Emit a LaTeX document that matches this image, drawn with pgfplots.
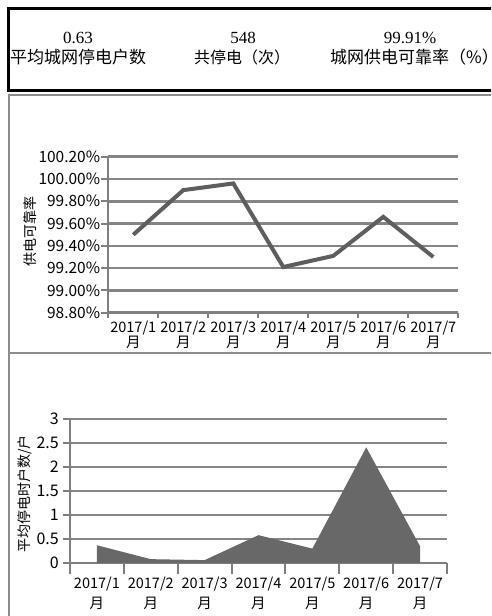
\documentclass[border=0pt]{standalone}
\usepackage{pgfplots}
\pgfplotsset{compat=1.18}
\usepackage{fontspec}
\setmainfont{Noto Sans CJK SC}
\newfontfamily\cjk{Noto Sans CJK SC}
\newfontfamily\serifnum{Liberation Serif}
\definecolor{gridgray}{HTML}{858585}
\definecolor{axisgray}{HTML}{7F7F7F}
\definecolor{linegray}{HTML}{5E5E5E}
\definecolor{fillgray}{HTML}{686868}
\definecolor{panelgray}{HTML}{8C8C8C}
\newcommand\yue{{\cjk 月}}
\pgfplotsset{
  mychart/.style={
    scale only axis, anchor=south west,
    xmin=0.5, xmax=7.5,
    axis lines*=left,
    axis line style={draw=axisgray, line width=2pt},
    tick align=outside,
    xtick={1,...,7},
    minor xtick={0.5,1.5,...,7.5},
    major x tick style={draw=none},
    tick style={draw=axisgray, line width=2pt},
    major tick length=7pt,
    ymajorgrids,
    major grid style={draw=gridgray, line width=2.5pt},
    xticklabels={{2017/1\\\yue},{2017/2\\\yue},{2017/3\\\yue},{2017/4\\\yue},{2017/5\\\yue},{2017/6\\\yue},{2017/7\\\yue}},
    yticklabel style={font=\fontsize{15.5}{18}\selectfont, inner sep=1pt},
    clip=false,
  }
}
\begin{document}
\begin{tikzpicture}[x=1pt,y=1pt]
\useasboundingbox (0,0) rectangle (491,616);
\clip (0,0) rectangle (491,616);
\fill[white] (0,0) rectangle (491,616);
% panels
\draw[panelgray, line width=2pt] (9,0) -- (9,521) -- (520,521);
\draw[panelgray, line width=2pt] (9,263) -- (520,263);
% top box
\draw[black, line width=3pt] (8.5,525) rectangle (520,607);
\node[font=\serifnum\fontsize{17}{20}\selectfont] at (78,578) {0.63};
\node[font=\cjk\fontsize{17}{20}\selectfont] at (78,559) {平均城网停电户数};
\node[font=\serifnum\fontsize{17}{20}\selectfont] at (243,578) {548};
\node[font=\cjk\fontsize{16}{20}\selectfont] at (242,559) {共停电（次）};
\node[font=\serifnum\fontsize{17}{20}\selectfont] at (410,578) {99.91\%};
\node[font=\cjk\fontsize{17}{20}\selectfont, anchor=west, inner sep=0pt] at (330,559) {城网供电可靠率（\%）};

% chart 1
\begin{axis}[mychart,
  at={(108.3pt,303.3pt)}, width=350pt, height=156pt,
  ymin=98.8, ymax=100.2,
  ytick={98.8,99.0,99.2,99.4,99.6,99.8,100.0,100.2},
  yticklabels={98.80\%,99.00\%,99.20\%,99.40\%,99.60\%,99.80\%,100.00\%,100.20\%},
  minor tick length=5pt,
  xticklabel style={font=\fontsize{14.5}{15.5}\selectfont, align=center, inner sep=1pt},
]
\addplot[linegray, line width=4pt, line join=miter] coordinates {
 (1,99.50) (2,99.90) (3,99.96) (4,99.21) (5,99.31) (6,99.66) (7,99.30)};
\end{axis}
\node[font=\cjk\fontsize{14}{16}\selectfont, rotate=90] at (30,384) {供电可靠率};

% chart 2
\begin{axis}[mychart,
  at={(70pt,53pt)}, width=377pt, height=144pt,
  ymin=0, ymax=3,
  ytick={0,0.5,1,1.5,2,2.5,3},
  yticklabels={0,0.5,1,1.5,2,2.5,3},
  yticklabel style={font=\fontsize{16}{18}\selectfont, inner sep=4pt},
  minor tick length=11pt,
  xticklabel style={font=\fontsize{14.5}{19.5}\selectfont, align=center, inner sep=2pt, yshift=-5pt},
]
\addplot[fill=fillgray, draw=none] coordinates {
 (1,0.37) (2,0.08) (3,0.06) (4,0.58) (5,0.30) (6,2.41) (7,0.35)} \closedcycle;
\end{axis}
\node[font=\cjk\fontsize{14}{16}\selectfont, rotate=90] at (25,122) {平均停电时户数/户};
\end{tikzpicture}
\end{document}
